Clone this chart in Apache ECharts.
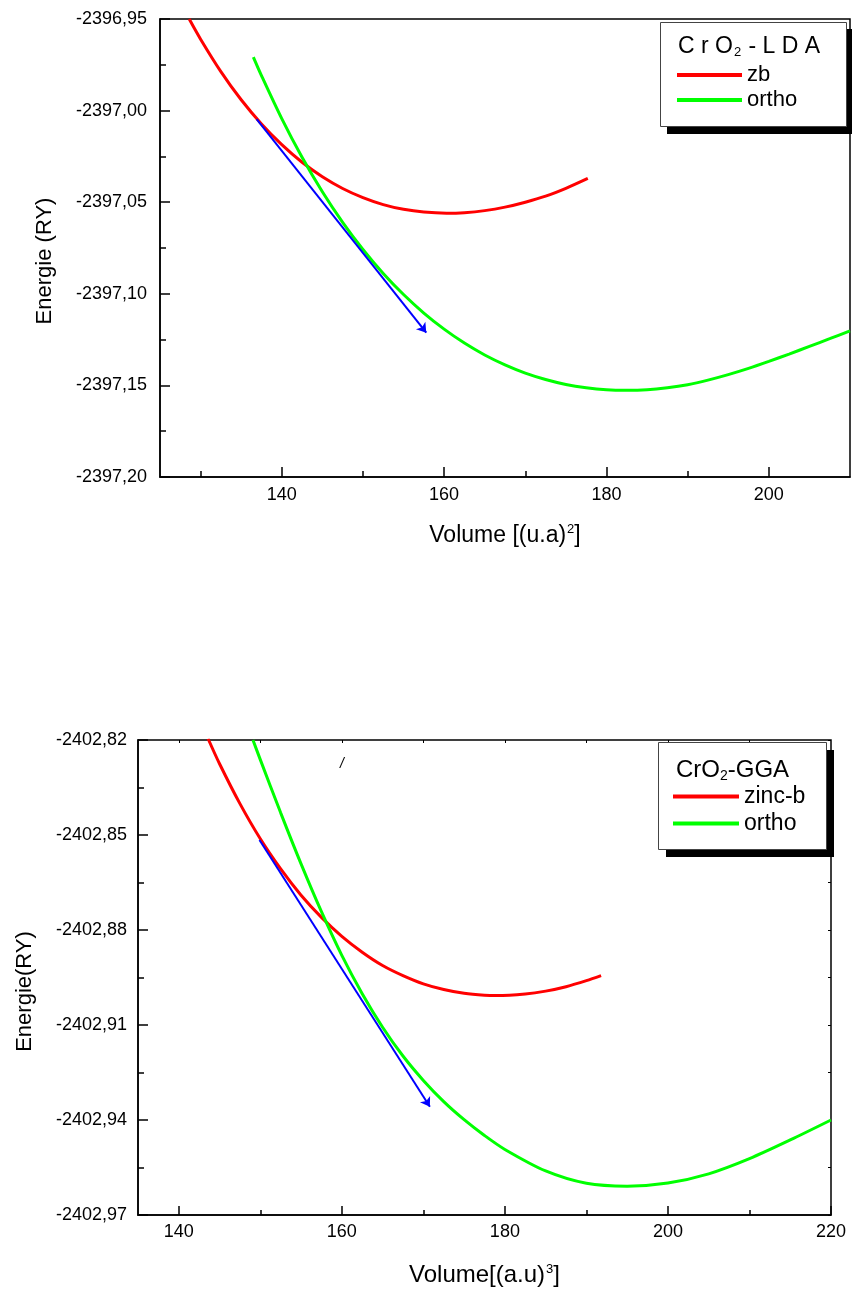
<!DOCTYPE html>
<html>
<head>
<meta charset="utf-8">
<script src="https://cdn.jsdelivr.net/npm/echarts@6/dist/echarts.min.js"></script>
<style>
  html, body { margin: 0; padding: 0; background: #ffffff; }
  #chart { width: 852px; height: 1291px; }
</style>
</head>
<body>
<div id="chart"></div>
<script>
// ---- CrO2, LDA: total energy (Ry) versus volume ----
const ldaZbVolume = [128.6, 130, 132.5, 135, 137.5, 140, 142.5, 145, 147.5, 150, 152.5, 155, 157.5, 160.3, 162.5, 165, 167.5, 170, 172.5, 175, 177.7];
const ldaZbEnergy = [-2396.9500, -2396.9610, -2396.9787, -2396.9941, -2397.0073, -2397.0186, -2397.0282, -2397.0361, -2397.0425, -2397.0475, -2397.0513, -2397.0539, -2397.0554, -2397.0560, -2397.0557, -2397.0546, -2397.0527, -2397.0500, -2397.0467, -2397.0424, -2397.0370];

const ldaOrthoVolume = [136.5, 137.5, 140, 142.5, 145, 147.5, 150, 152.5, 155, 157.5, 160, 162.5, 165, 167.5, 170, 172.5, 175, 177.5, 180, 182.4, 185, 187.5, 190, 192.5, 195, 197.5, 200, 202.5, 205, 207.5, 210];
const ldaOrthoEnergy = [-2396.9708, -2396.9809, -2397.0044, -2397.0255, -2397.0443, -2397.0610, -2397.0758, -2397.0889, -2397.1004, -2397.1105, -2397.1193, -2397.1269, -2397.1334, -2397.1388, -2397.1433, -2397.1468, -2397.1495, -2397.1513, -2397.1524, -2397.1527, -2397.1524, -2397.1513, -2397.1496, -2397.1471, -2397.1441, -2397.1407, -2397.1369, -2397.1329, -2397.1287, -2397.1245, -2397.1202];

// tangent arrow (start, end)
const ldaTangentVolume = [136.9, 157.8];
const ldaTangentEnergy = [-2397.0046, -2397.1212];

// ---- CrO2, GGA ----
const ggaZbVolume = [143.6, 145, 147.5, 150, 152.5, 155, 157.5, 160, 162.5, 165, 167.5, 170, 172.5, 175, 177.5, 179, 182.5, 185, 187.5, 190, 191.8];
const ggaZbEnergy = [-2402.8196, -2402.8275, -2402.8401, -2402.8512, -2402.8607, -2402.8690, -2402.8760, -2402.8820, -2402.8870, -2402.8912, -2402.8944, -2402.8970, -2402.8988, -2402.9000, -2402.9006, -2402.9007, -2402.9002, -2402.8993, -2402.8979, -2402.8960, -2402.8944];

const ggaOrthoVolume = [149.1, 150, 152.5, 155, 157.5, 160, 162.5, 165, 167.5, 170, 172.5, 175, 177.5, 180, 185, 190, 195, 200, 205, 210, 215, 220];
const ggaOrthoEnergy = [-2402.8200, -2402.8262, -2402.8430, -2402.8591, -2402.8742, -2402.8880, -2402.9001, -2402.9107, -2402.9198, -2402.9275, -2402.9342, -2402.9399, -2402.9449, -2402.9493, -2402.9561, -2402.9600, -2402.9609, -2402.9599, -2402.9570, -2402.9522, -2402.9463, -2402.9400];

const ggaTangentVolume = [149.9, 170.8];
const ggaTangentEnergy = [-2402.8516, -2402.9358];

// small slash annotation near the top of the GGA panel
const ggaNote = { volume: 160.0, energy: -2402.8276, text: '/' };

// ---- axes ----
const ldaXRange = [125, 210];
const ldaXMajor = [140, 160, 180, 200];
const ldaXMinor = [130, 150, 170, 190];
const ldaYRange = [-2397.20, -2396.95];
const ldaYStep = 0.05;

const ggaXRange = [135, 220];
const ggaXMajor = [140, 160, 180, 200, 220];
const ggaXMinor = [150, 170, 190, 210];
const ggaXTop = [140, 150, 160, 170, 180, 190, 200, 210];
const ggaYRange = [-2402.97, -2402.82];
const ggaYStep = 0.03;

const FONT = '"Liberation Sans", Arial, Helvetica, sans-serif';
const RED = '#ff0000', GREEN = '#00ff00', BLUE = '#0000ff';

const pairs = (xs, ys) => xs.map((x, i) => [x, ys[i]]);
const comma = v => v.toFixed(2).replace('.', ',');

const axisLine = { show: true, onZero: false, lineStyle: { color: '#000', width: 1.5 } };
const tickLabel = { color: '#000', fontSize: 18, fontFamily: FONT };

const chart = echarts.init(document.getElementById('chart'), null, { renderer: 'canvas' });

function curve(name, xs, ys, color, gi) {
  return {
    name, type: 'line', xAxisIndex: gi === 0 ? 0 : 2, yAxisIndex: gi === 0 ? 0 : 1,
    data: pairs(xs, ys), showSymbol: false, symbol: 'none', smooth: 0.3,
    lineStyle: { color, width: 3 }, itemStyle: { color }, clip: true, z: 3
  };
}

function arrow(xs, ys, gi) {
  return {
    type: 'lines', coordinateSystem: 'cartesian2d',
    xAxisIndex: gi === 0 ? 0 : 2, yAxisIndex: gi === 0 ? 0 : 1,
    symbol: ['none', 'arrow'], symbolSize: [0, 9],
    lineStyle: { color: BLUE, width: 2, opacity: 1 },
    data: [{ coords: [[xs[0], ys[0]], [xs[1], ys[1]]] }], z: 4
  };
}

const option = {
  backgroundColor: '#ffffff',
  animation: false,
  grid: [
    { left: 160, top: 19, width: 690, height: 458, show: true, borderColor: '#000', borderWidth: 1.5, backgroundColor: 'transparent' },
    { left: 138, top: 740, width: 693, height: 475, show: true, borderColor: '#000', borderWidth: 1.5, backgroundColor: 'transparent' }
  ],
  xAxis: [
    { // LDA bottom, major ticks and labels
      type: 'value', gridIndex: 0, position: 'bottom', min: ldaXRange[0], max: ldaXRange[1],
      axisLine,
      axisTick: { show: true, inside: true, length: 10, customValues: ldaXMajor, lineStyle: { color: '#000', width: 1.5 } },
      axisLabel: Object.assign({ customValues: ldaXMajor, margin: 9 }, tickLabel),
      splitLine: { show: false },
      name: '{a|Volume [(u.a)}{sup|2}{a|]}', nameLocation: 'middle', nameGap: 46,
      nameTextStyle: { rich: {
        a: { fontSize: 23, fontFamily: FONT, color: '#000' },
        sup: { fontSize: 13, fontFamily: FONT, color: '#000', verticalAlign: 'top', padding: [0, 0, 12, 1] }
      } }
    },
    { // LDA bottom, minor ticks
      type: 'value', gridIndex: 0, position: 'bottom', min: ldaXRange[0], max: ldaXRange[1],
      axisLine: { show: false },
      axisTick: { show: true, inside: true, length: 6, customValues: ldaXMinor, lineStyle: { color: '#000', width: 1.5 } },
      axisLabel: { show: false }, splitLine: { show: false }
    },
    { // GGA bottom, major ticks and labels
      type: 'value', gridIndex: 1, position: 'bottom', min: ggaXRange[0], max: ggaXRange[1],
      axisLine,
      axisTick: { show: true, inside: true, length: 9, customValues: ggaXMajor, lineStyle: { color: '#000', width: 1.5 } },
      axisLabel: Object.assign({ customValues: ggaXMajor, margin: 8 }, tickLabel),
      splitLine: { show: false },
      name: '{a|Volume[(a.u)}{sup|3}{a|]}', nameLocation: 'middle', nameGap: 48,
      nameTextStyle: { rich: {
        a: { fontSize: 24, fontFamily: FONT, color: '#000' },
        sup: { fontSize: 13, fontFamily: FONT, color: '#000', verticalAlign: 'top', padding: [0, 0, 12, 1] }
      } }
    },
    { // GGA bottom, minor ticks
      type: 'value', gridIndex: 1, position: 'bottom', min: ggaXRange[0], max: ggaXRange[1],
      axisLine: { show: false },
      axisTick: { show: true, inside: true, length: 5, customValues: ggaXMinor, lineStyle: { color: '#000', width: 1.5 } },
      axisLabel: { show: false }, splitLine: { show: false }
    },
    { // GGA top edge ticks
      type: 'value', gridIndex: 1, position: 'top', min: ggaXRange[0], max: ggaXRange[1],
      axisLine: { show: false },
      axisTick: { show: true, inside: true, length: 3, customValues: ggaXTop, lineStyle: { color: '#000', width: 1 } },
      axisLabel: { show: false }, splitLine: { show: false }
    }
  ],
  yAxis: [
    {
      type: 'value', gridIndex: 0, position: 'left', min: ldaYRange[0], max: ldaYRange[1], interval: ldaYStep,
      axisLine,
      axisTick: { show: true, inside: true, length: 10, lineStyle: { color: '#000', width: 1.5 } },
      minorTick: { show: true, splitNumber: 2, length: 6, lineStyle: { color: '#000', width: 1.5 } },
      axisLabel: Object.assign({ formatter: comma, margin: 13 }, tickLabel),
      splitLine: { show: false }, minorSplitLine: { show: false },
      name: 'Energie (RY)', nameLocation: 'middle', nameGap: 104,
      nameTextStyle: { fontSize: 22, fontFamily: FONT, color: '#000', padding: [0, 26, 0, 0] }
    },
    {
      type: 'value', gridIndex: 1, position: 'left', min: ggaYRange[0], max: ggaYRange[1], interval: ggaYStep,
      axisLine,
      axisTick: { show: true, inside: true, length: 10, lineStyle: { color: '#000', width: 1.5 } },
      minorTick: { show: true, splitNumber: 2, length: 6, lineStyle: { color: '#000', width: 1.5 } },
      axisLabel: Object.assign({ formatter: comma, margin: 11 }, tickLabel),
      splitLine: { show: false }, minorSplitLine: { show: false },
      name: 'Energie(RY)', nameLocation: 'middle', nameGap: 102,
      nameTextStyle: { fontSize: 22, fontFamily: FONT, color: '#000', padding: [0, 28, 0, 0] }
    },
    {
      type: 'value', gridIndex: 1, position: 'right', min: ggaYRange[0], max: ggaYRange[1], interval: ggaYStep,
      axisLine: { show: false },
      axisTick: { show: true, inside: true, length: 3, lineStyle: { color: '#000', width: 1 } },
      minorTick: { show: true, splitNumber: 2, length: 3, lineStyle: { color: '#000', width: 1 } },
      axisLabel: { show: false }, splitLine: { show: false }, minorSplitLine: { show: false }
    }
  ],
  legend: [
    {
      data: ['zb', 'ortho'], orient: 'vertical', left: 677, top: 64, itemGap: 3, padding: 0,
      itemWidth: 65, itemHeight: 4, icon: 'rect', selectedMode: false, z: 20,
      textStyle: { fontSize: 22, fontFamily: FONT, color: '#000' }
    },
    {
      data: ['zinc-b', 'ortho'], orient: 'vertical', left: 673, top: 785, itemGap: 4, padding: 0,
      itemWidth: 66, itemHeight: 4, icon: 'rect', selectedMode: false, z: 20,
      textStyle: { fontSize: 23, fontFamily: FONT, color: '#000' }
    }
  ],
  graphic: [
    // LDA legend frame with drop shadow
    { type: 'rect', z: 10, shape: { x: 667, y: 29, width: 187, height: 105 }, style: { fill: '#000' } },
    { type: 'rect', z: 11, shape: { x: 660.5, y: 22.5, width: 186, height: 104 }, style: { fill: '#fff', stroke: '#444', lineWidth: 1 } },
    { type: 'text', z: 12, x: 678, y: 47,
      style: { text: '{a|C r O}{s|2}{a| - L D A}', verticalAlign: 'middle', align: 'left', rich: {
        a: { fontSize: 23, fontFamily: FONT, color: '#000' },
        s: { fontSize: 13, fontFamily: FONT, color: '#000', verticalAlign: 'bottom', padding: [11, 1, 0, 1] }
      } } },
    // GGA legend frame with drop shadow
    { type: 'rect', z: 10, shape: { x: 666, y: 750, width: 168, height: 107 }, style: { fill: '#000' } },
    { type: 'rect', z: 11, shape: { x: 658.5, y: 742.5, width: 168, height: 107 }, style: { fill: '#fff', stroke: '#444', lineWidth: 1 } },
    { type: 'text', z: 12, x: 676, y: 770,
      style: { text: '{a|CrO}{s|2}{a|-GGA}', verticalAlign: 'middle', align: 'left', rich: {
        a: { fontSize: 24, fontFamily: FONT, color: '#000' },
        s: { fontSize: 14, fontFamily: FONT, color: '#000', verticalAlign: 'bottom', padding: [12, 0, 0, 0] }
      } } }
  ],
  series: [
    curve('zb', ldaZbVolume, ldaZbEnergy, RED, 0),
    curve('ortho', ldaOrthoVolume, ldaOrthoEnergy, GREEN, 0),
    arrow(ldaTangentVolume, ldaTangentEnergy, 0),
    Object.assign(curve('zinc-b', ggaZbVolume, ggaZbEnergy, RED, 1), {
      markPoint: {
        symbol: 'circle', symbolSize: 0, silent: true,
        label: { show: true, position: 'inside', formatter: ggaNote.text, color: '#000', fontSize: 14, fontFamily: FONT, fontStyle: 'italic' },
        data: [{ coord: [ggaNote.volume, ggaNote.energy] }]
      }
    }),
    curve('ortho', ggaOrthoVolume, ggaOrthoEnergy, GREEN, 1),
    arrow(ggaTangentVolume, ggaTangentEnergy, 1)
  ]
};

chart.setOption(option);
</script>
</body>
</html>
